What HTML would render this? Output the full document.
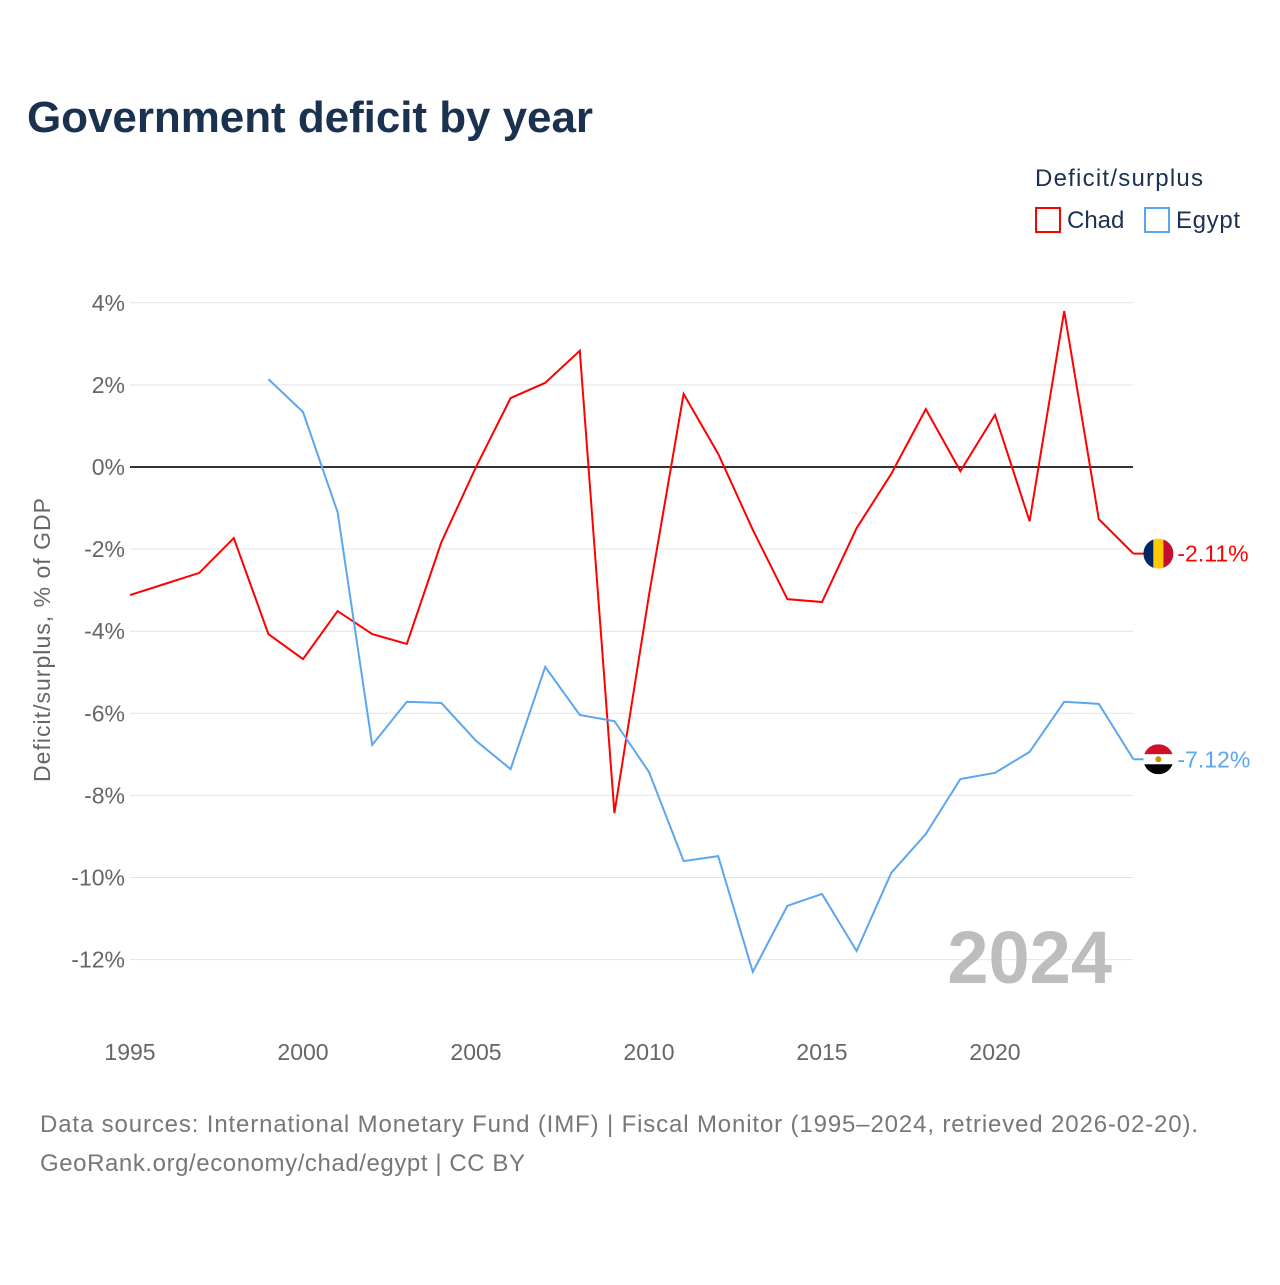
<!DOCTYPE html>
<html><head><meta charset="utf-8"><style>
body{margin:0;background:#fff;font-family:"Liberation Sans",sans-serif}
</style></head><body>
<svg width="1280" height="1280" viewBox="0 0 1280 1280" xmlns="http://www.w3.org/2000/svg" font-family="Liberation Sans, sans-serif">
<defs>
<clipPath id="cc"><circle id="ccc" cx="0" cy="0" r="15"/></clipPath>
<clipPath id="ec"><circle id="ecc" cx="0" cy="0" r="15"/></clipPath>
</defs>
<text x="27" y="132" font-size="44" font-weight="bold" fill="#1a3150" textLength="566">Government deficit by year</text>
<text x="1035" y="186" font-size="24" fill="#1a3150" textLength="168">Deficit/surplus</text>
<g><rect x="1036" y="208" width="24" height="24" fill="none" stroke="#ff0000" stroke-width="2"/><text x="1067" y="228" font-size="24" fill="#1a3150">Chad</text></g>
<g><rect x="1145" y="208" width="24" height="24" fill="none" stroke="#5aa6ef" stroke-width="2"/><text x="1176" y="228" font-size="24" fill="#1a3150" textLength="64">Egypt</text></g>
<g id="grid"></g><g id="yt"></g><g id="xt"></g>
<text x="1112" y="983" font-size="74" font-weight="bold" fill="#bdbdbd" text-anchor="end">2024</text>
<g id="lines"></g>
<text transform="translate(50,640) rotate(-90)" font-size="23" fill="#666" text-anchor="middle" textLength="284">Deficit/surplus, % of GDP</text>
<text x="40" y="1132" font-size="24" fill="#777" textLength="1158">Data sources: International Monetary Fund (IMF) | Fiscal Monitor (1995–2024, retrieved 2026-02-20).</text>
<text x="40" y="1171" font-size="24" fill="#777" textLength="485">GeoRank.org/economy/chad/egypt | CC BY</text>
</svg>
<script>
const years=[1995,1996,1997,1998,1999,2000,2001,2002,2003,2004,2005,2006,2007,2008,2009,2010,2011,2012,2013,2014,2015,2016,2017,2018,2019,2020,2021,2022,2023,2024];
const chad=[-3.12,-2.85,-2.58,-1.73,-4.07,-4.68,-3.51,-4.07,-4.31,-1.83,0,1.68,2.05,2.83,-8.43,-3.12,1.78,0.32,-1.53,-3.22,-3.29,-1.49,-0.17,1.41,-0.1,1.27,-1.32,3.8,-1.27,-2.11];
const egyptYears=[1999,2000,2001,2002,2003,2004,2005,2006,2007,2008,2009,2010,2011,2012,2013,2014,2015,2016,2017,2018,2019,2020,2021,2022,2023,2024];
const egypt=[2.14,1.34,-1.1,-6.77,-5.72,-5.75,-6.67,-7.36,-4.87,-6.04,-6.19,-7.43,-9.6,-9.48,-12.3,-10.69,-10.4,-11.79,-9.89,-8.94,-7.6,-7.45,-6.94,-5.72,-5.77,-7.12];
const yTicks=[4,2,0,-2,-4,-6,-8,-10,-12];
const xTicks=[1995,2000,2005,2010,2015,2020];
const NS="http://www.w3.org/2000/svg";
const X=y=>130+(y-1995)*34.6, Y=v=>467-v*41.05;
function mk(t,a,p){const e=document.createElementNS(NS,t);for(const k in a)e.setAttribute(k,a[k]);p.appendChild(e);return e;}
const g=document.getElementById('grid'),yt=document.getElementById('yt'),xt=document.getElementById('xt'),L=document.getElementById('lines');
yTicks.forEach(v=>{
 const l=mk('line',{x1:130,x2:1133,y1:Y(v),y2:Y(v),stroke:v===0?'#333':'#e4e4e4','stroke-width':v===0?2:1},g);
 
 
 const t=mk('text',{x:125,y:Y(v)+8,'font-size':23,fill:'#666','text-anchor':'end'},yt);
 t.textContent=v+'%';
 
 
});
xTicks.forEach(v=>{
 const t=mk('text',{x:X(v),y:1060,'font-size':23,fill:'#666','text-anchor':'middle'},xt);
 t.textContent=v;
 
 
});
function line(xs,vs,c,name){
 const p=mk('polyline',{points:xs.map((y,i)=>X(y)+','+Y(vs[i])).join(' '),fill:'none',stroke:c,'stroke-width':2},L);
 
 
 const lx=X(xs[xs.length-1]), ly=Y(vs[vs.length-1]);
 mk('line',{x1:lx,x2:lx+12,y1:ly,y2:ly,stroke:c,'stroke-width':2},L);
 const t=mk('text',{x:lx+44,y:ly+8,'font-size':23,fill:c},L);
 t.textContent=vs[vs.length-1].toFixed(2)+'%';
 
 
 return [lx,ly];
}
const [cx,cy]=line(years,chad,'#ff0000','chad-line');
const [ex,ey]=line(egyptYears,egypt,'#5aa6ef','egypt-line');
const fc=cx+25;
document.getElementById('ccc').setAttribute('cx',fc);document.getElementById('ccc').setAttribute('cy',cy);
document.getElementById('ecc').setAttribute('cx',fc);document.getElementById('ecc').setAttribute('cy',ey);
let f=mk('g',{'clip-path':'url(#cc)'},L);


mk('rect',{x:fc-15,y:cy-15,width:10,height:30,fill:'#002664'},f);
mk('rect',{x:fc-5,y:cy-15,width:10,height:30,fill:'#fecb00'},f);
mk('rect',{x:fc+5,y:cy-15,width:10,height:30,fill:'#c60c30'},f);
let e=mk('g',{'clip-path':'url(#ec)'},L);


mk('rect',{x:fc-15,y:ey-15,width:30,height:10,fill:'#ce1126'},e);
mk('rect',{x:fc-15,y:ey-5,width:30,height:10,fill:'#fff'},e);
mk('rect',{x:fc-15,y:ey+5,width:30,height:10,fill:'#000'},e);
mk('circle',{cx:fc,cy:ey,r:3,fill:'#c09300'},e);
</script>
</body></html>
